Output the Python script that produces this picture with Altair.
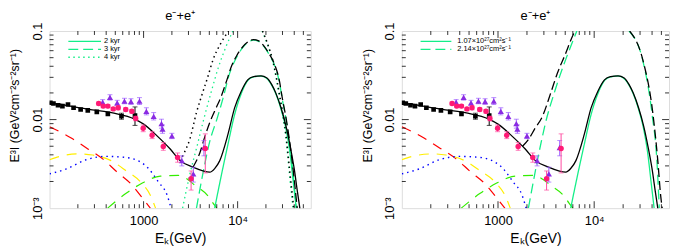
import altair as alt
import pandas as pd

FONT = "Liberation Sans"
GREEN = "#14ee88"
LIME = "#33ee00"

# ---------------- data ----------------
# black squares
sq_E = [102, 110, 123, 137, 157, 180, 214, 255, 318, 417, 582, 810]
sq_v = [0.0155, 0.0152, 0.0145, 0.0142, 0.0148, 0.0136, 0.0130, 0.0127, 0.0122, 0.0116, 0.0109, 0.0111]
sq_err_E = [582, 810]
sq_lo = [0.0101, 0.0086]
sq_hi = [0.0118, 0.0139]

# pink circles
ci_E = [333, 372, 417, 475, 537, 646, 750, 824, 990, 1232, 1620, 2300, 3200, 4530]
ci_v = [0.0152, 0.0142, 0.0142, 0.0132, 0.0136, 0.0130, 0.0124, 0.0103, 0.0080, 0.00666, 0.00497, 0.00374, 0.00215, 0.00472]
ci_lo = [0.0146, 0.0136, 0.0136, 0.0127, 0.0129, 0.0124, 0.0118, 0.0097, 0.0073, 0.0061, 0.0045, 0.0033, 0.0016, 0.0025]
ci_hi = [0.0158, 0.0148, 0.0148, 0.0137, 0.0143, 0.0136, 0.0130, 0.0109, 0.0087, 0.0073, 0.0055, 0.0042, 0.00263, 0.0069]

# purple triangles
tr_E = [367, 439, 524, 626, 734, 904, 1070, 1280, 1550, 1590, 2000, 2550, 3380, 4380]
tr_v = [0.0157, 0.0178, 0.0154, 0.0162, 0.0160, 0.0162, 0.0124, 0.0109, 0.0090, 0.0078, 0.00655, 0.00344, 0.00244, 0.00484]
tr_lo = [0.0147, 0.0166, 0.0144, 0.0151, 0.0149, 0.0148, 0.0113, 0.0099, 0.0080, 0.0070, 0.0061, 0.0030, 0.00197, 0.0039]
tr_hi = [0.0168, 0.0191, 0.0165, 0.0174, 0.0172, 0.0177, 0.0136, 0.0120, 0.0101, 0.0087, 0.0070, 0.0039, 0.0029, 0.0058]

# background components
red_E = [100, 170, 249, 367, 515, 730, 1050, 1180]
red_v = [0.0083, 0.0062, 0.00476, 0.0036, 0.00259, 0.00189, 0.00117, 0.001]
yel_E = [100, 128, 209, 288, 450, 646, 930, 1180, 1340]
yel_v = [0.00352, 0.00384, 0.0041, 0.00398, 0.00344, 0.00266, 0.00197, 0.0014, 0.001]
blu_E = [100, 151, 245, 398, 646, 1050, 1440, 1780, 1960]
blu_v = [0.00244, 0.00277, 0.00352, 0.00384, 0.00374, 0.00302, 0.00197, 0.0014, 0.001]
lim_E = [415, 646, 970, 1510, 2340, 3650, 4940, 5500, 6000]
lim_v = [0.001, 0.00146, 0.00192, 0.0023, 0.00234, 0.00176, 0.00134, 0.00113, 0.001]

# total (black solid)
tot_E = [100, 150, 209, 300, 468, 824, 1010, 1390, 1920, 2450, 3350, 4200, 5070, 5700, 6460, 7900,
         9290, 10900, 12800, 14800, 17700, 20500, 23000, 25500, 29000, 32700, 36500, 40000, 43000, 46000]
tot_v = [0.0154, 0.0145, 0.01355, 0.0128, 0.0119, 0.0100, 0.00883, 0.00655, 0.00465, 0.00344, 0.0029,
         0.00265, 0.00255, 0.0028, 0.00344, 0.00684, 0.01355, 0.0208, 0.0281, 0.0306, 0.0312, 0.0295,
         0.0250, 0.0199, 0.0135, 0.00845, 0.0048, 0.00277, 0.0016, 0.00098]

# 2 kyr / 1.07e27 source (green solid)
g2_E = [5700, 6650, 7900, 9290, 10900, 12800, 14800, 17700, 20500, 23000, 25500, 29000, 32700, 36000, 39000, 42000]
g2_v = [0.001, 0.00224, 0.00528, 0.0114, 0.0195, 0.0275, 0.0303, 0.0310, 0.0290, 0.0245, 0.0195, 0.0130,
        0.0078, 0.0042, 0.0020, 0.001]

# 3 kyr total (black dashed) and source (green dashed)
t3_E = [3350, 3960, 4500, 5100, 5700, 6650, 7600, 8600, 9800, 11300, 13000, 14700,
        16500, 19000, 21700, 24500, 27700, 30000, 32700, 38000, 43000]
t3_v = [0.0029, 0.0042, 0.0065, 0.0095, 0.0125, 0.0180, 0.027, 0.040, 0.053, 0.066, 0.076, 0.080,
        0.078, 0.068, 0.055, 0.043, 0.028, 0.017, 0.0105, 0.0034, 0.001]
g3_E = [3650, 4200, 5070, 6000, 7000, 8200, 9800, 11300, 13000, 14700,
        16500, 19000, 21700, 24500, 27700, 30000, 32700, 38000, 42000]
g3_v = [0.001, 0.00224, 0.00575, 0.0100, 0.0175, 0.033, 0.051, 0.065, 0.075, 0.079,
        0.077, 0.067, 0.054, 0.042, 0.027, 0.0165, 0.0100, 0.0031, 0.001]

# 4 kyr total (black dotted) and source (green dotted): rising and falling branches
t4r_E = [2450, 2700, 3100, 3650, 4300, 4800, 5500, 6500, 8000]
t4r_v = [0.0034, 0.0042, 0.0060, 0.0120, 0.021, 0.030, 0.048, 0.070, 0.1]
t4f_E = [18400, 21000, 23600, 27700, 32700, 36000, 39500]
t4f_v = [0.1, 0.07, 0.047, 0.0199, 0.0066, 0.0025, 0.001]
g4r_E = [2600, 3100, 3700, 4300, 5200, 6300, 7500, 8900]
g4r_v = [0.001, 0.0024, 0.0050, 0.0095, 0.020, 0.040, 0.066, 0.1]
g4f_E = [18200, 21000, 23600, 27700, 32700, 36000, 38800]
g4f_v = [0.1, 0.068, 0.045, 0.0185, 0.006, 0.0021, 0.001]

# 2.14e27 total (black dashed) and source (green dashed), right panel
d2r_E = [1800, 2100, 2400, 2900, 3530, 4140, 5050, 5900, 6300]
d2r_v = [0.0050, 0.0061, 0.0078, 0.0109, 0.0199, 0.0333, 0.0558, 0.0857, 0.1]
d2f_E = [23400, 32100, 40700, 45700, 49300, 51000]
d2f_v = [0.1, 0.047, 0.0119, 0.0036, 0.00134, 0.001]
gd2r_E = [2070, 2900, 3120, 3900, 6600]
gd2r_v = [0.001, 0.0065, 0.0092, 0.021, 0.1]
gd2f_E = [23000, 32100, 40000, 45000, 47500]
gd2f_v = [0.1, 0.046, 0.0115, 0.0033, 0.001]

left_series = ["2 kyr", "3 kyr", "4 kyr"]
right_series = ["1.07×10²⁷cm²s⁻¹", "2.14×10²⁷cm²s⁻¹"]

# axis ticks / labels
x_major = [1000, 10000]
x_minor = [200, 300, 400, 500, 600, 700, 800, 900, 2000, 3000, 4000, 5000, 6000, 7000, 8000, 9000,
           20000, 30000, 40000, 50000]
x_text = ["1000", "10⁴"]
y_major = [0.001, 0.01, 0.1]
y_inner_major = [0.01]
y_minor = [0.002, 0.003, 0.004, 0.005, 0.006, 0.007, 0.008, 0.009,
           0.02, 0.03, 0.04, 0.05, 0.06, 0.07, 0.08, 0.09]
y_text = ["10⁻³", "0.01", "0.1"]

# ---------------- helpers ----------------
H = 179
xs = alt.Scale(type="log", domain=[100, 60000], nice=False)
ys = alt.Scale(type="log", domain=[0.001, 0.1], nice=False)


def label_expr(vals, texts):
    expr = "''"
    for v, t in zip(vals, texts):
        expr = f"abs(datum.value - {v}) < {v * 0.001} ? '{t}' : ({expr})"
    return expr


def df_curve(E, v, seg="a", series=None):
    d = pd.DataFrame({"E": E, "v": v, "seg": seg})
    if series is not None:
        d["series"] = series
    return d


X_AXIS = alt.Axis(values=x_major, labelExpr=label_expr(x_major, x_text), ticks=False, domain=False,
                  grid=False, labelFontSize=13, labelPadding=7, labelFont=FONT, labelColor="black",
                  labelFlush=False,
                  title="Eₖ(GeV)", titleFont=FONT, titleFontSize=14, titleFontWeight="normal",
                  titleColor="black", titlePadding=4)
Y_AXIS = alt.Axis(values=y_major, labelExpr=label_expr(y_major, y_text), ticks=False, domain=False,
                  grid=False, labelFontSize=13, labelPadding=5, labelFont=FONT, labelColor="black",
                  labelAngle=270, labelAlign="center", labelBaseline="bottom", labelFlush=False,
                  labelOverlap=False,
                  title="E³I (GeV²cm⁻²s⁻²sr⁻¹)", titleFont=FONT, titleFontSize=12.5,
                  titleFontWeight="normal", titleColor="black", titlePadding=10, titleY=75)


def XE(field="E"):
    return alt.X(f"{field}:Q", scale=xs, axis=X_AXIS, title="Eₖ(GeV)")


def YE(field="v"):
    return alt.Y(f"{field}:Q", scale=ys, axis=Y_AXIS, title="E³I (GeV²cm⁻²s⁻²sr⁻¹)")


def line(df, color, dash=None, width=1.2):
    kw = dict(color=color, strokeWidth=width, clip=True, interpolate="monotone")
    if dash is not None:
        kw["strokeDash"] = dash
    return alt.Chart(df).mark_line(**kw).encode(x=XE(), y=YE(), detail="seg:N")


def green_layer(df, domain, dashes, legend):
    return alt.Chart(df).mark_line(color=GREEN, strokeWidth=1.3, clip=True, interpolate="monotone").encode(
        x=XE(), y=YE(),
        strokeDash=alt.StrokeDash("series:N", scale=alt.Scale(domain=domain, range=dashes), legend=legend),
        detail="seg:N",
    )


def errbars(E, lo, hi, color):
    d = pd.DataFrame({"E": E, "lo": lo, "hi": hi})
    base = alt.Chart(d)
    r = base.mark_rule(color=color, strokeWidth=1).encode(x=XE(), y=YE("lo"), y2="hi:Q")
    t1 = base.mark_tick(color=color, orient="horizontal", size=5, thickness=1).encode(x=XE(), y=YE("lo"))
    t2 = base.mark_tick(color=color, orient="horizontal", size=5, thickness=1).encode(x=XE(), y=YE("hi"))
    return [r, t1, t2]


def points(E, v, shape, color, size):
    d = pd.DataFrame({"E": E, "v": v})
    return alt.Chart(d).mark_point(shape=shape, filled=True, color=color, size=size, opacity=1,
                                   clip=True).encode(x=XE(), y=YE())


def tick_layers(W):
    out = []
    for vals, L in ((x_major, 7), (x_minor, 4)):
        d = pd.DataFrame({"t": vals})
        out.append(alt.Chart(d).mark_rule(color="black", strokeWidth=0.8).encode(
            x=XE("t"), y=alt.value(H), y2=alt.value(H - L)))
        out.append(alt.Chart(d).mark_rule(color="black", strokeWidth=0.8).encode(
            x=XE("t"), y=alt.value(0), y2=alt.value(L)))
    for vals, L in ((y_inner_major, 7), (y_minor, 4)):
        d = pd.DataFrame({"t": vals})
        out.append(alt.Chart(d).mark_rule(color="black", strokeWidth=0.8).encode(
            y=YE("t"), x=alt.value(0), x2=alt.value(L)))
        out.append(alt.Chart(d).mark_rule(color="black", strokeWidth=0.8).encode(
            y=YE("t"), x=alt.value(W), x2=alt.value(W - L)))
    return out


def background_layers():
    return [
        line(df_curve(red_E, red_v), "#ff0000", [10, 8], 1.2),
        line(df_curve(yel_E, yel_v), "#ffee00", [10, 8], 1.2),
        line(df_curve(blu_E, blu_v), "#0000ff", [1.5, 4], 1.4),
        line(df_curve(lim_E, lim_v), LIME, [10, 8], 1.2),
    ]


def data_layers():
    out = []
    out += errbars(tr_E, tr_lo, tr_hi, "#9b5cff")
    out.append(points(tr_E, tr_v, "triangle-up", "#8a2be2", 38))
    out += errbars(sq_err_E, sq_lo, sq_hi, "black")
    out.append(points(sq_E, sq_v, "square", "black", 22))
    out += errbars(ci_E, ci_lo, ci_hi, "#ff4aa0")
    out.append(points(ci_E, ci_v, "circle", "#ff1a75", 30))
    return out


def mk_legend(x, y, off, half):
    return alt.Legend(orient="none", legendX=x, legendY=y, title=None, symbolType=f"M-{half},0H{half}",
                      symbolSize=50, symbolStrokeWidth=1.3, symbolStrokeColor=GREEN,
                      labelFontSize=7.5, labelFont=FONT, labelColor="black", labelOffset=off,
                      rowPadding=0, padding=0)


title_params = dict(text="e⁻+e⁺", fontSize=13, fontWeight="normal", font=FONT, offset=-1,
                    frame="group", anchor="middle", color="black")

# ---------------- left panel ----------------
WL = 264
left_green = pd.concat([
    df_curve(g2_E, g2_v, "a", left_series[0]),
    df_curve(g3_E, g3_v, "a", left_series[1]),
    df_curve(g4r_E, g4r_v, "rise", left_series[2]),
    df_curve(g4f_E, g4f_v, "fall", left_series[2]),
])
left_layers = background_layers()
left_layers.append(green_layer(left_green, left_series, [[1, 0], [10, 5], [1.5, 3.5]],
                               mk_legend(31, 6, 15, 4.67)))
left_layers += [
    line(df_curve(tot_E, tot_v), "black", None, 1.3),
    line(df_curve(t3_E, t3_v), "black", [9, 4], 1.3),
    line(pd.concat([df_curve(t4r_E, t4r_v, "rise"), df_curve(t4f_E, t4f_v, "fall")]), "black", [1.5, 3.5], 1.5),
]
left_layers += data_layers()
left_layers += tick_layers(WL)
left = alt.layer(*left_layers).properties(width=WL, height=H, title=alt.TitleParams(**title_params))

# ---------------- right panel ----------------
WR = 270
right_green = pd.concat([
    df_curve(g2_E, g2_v, "a", right_series[0]),
    df_curve(gd2r_E, gd2r_v, "rise", right_series[1]),
    df_curve(gd2f_E, gd2f_v, "fall", right_series[1]),
])
right_layers = background_layers()
right_layers.append(green_layer(right_green, right_series, [[1, 0], [10, 5]],
                                mk_legend(30, 6, 17, 4.4)))
right_layers += [
    line(df_curve(tot_E, tot_v), "black", None, 1.3),
    line(pd.concat([df_curve(d2r_E, d2r_v, "rise"), df_curve(d2f_E, d2f_v, "fall")]), "black", [9, 4], 1.3),
]
right_layers += data_layers()
right_layers += tick_layers(WR)
right = alt.layer(*right_layers).properties(width=WR, height=H, title=alt.TitleParams(**title_params))

chart = alt.hconcat(left, right, spacing=49).resolve_scale(
    strokeDash="independent"
).resolve_legend(
    strokeDash="independent"
).properties(
    padding={"left": 0, "top": 0, "right": 0, "bottom": 0}
).configure_view(stroke="black", strokeWidth=1).configure(background="white")

chart.save("out.html", embed_options={"renderer": "svg", "actions": False})
